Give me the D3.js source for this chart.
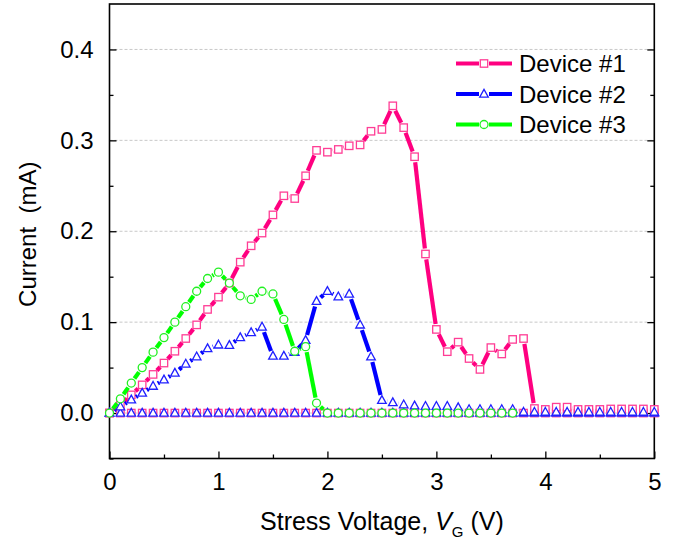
<!DOCTYPE html>
<html>
<head>
<meta charset="utf-8">
<script src="https://cdn.jsdelivr.net/npm/d3@7"></script>
<style>
  html, body { margin: 0; padding: 0; background: #fff; }
  svg text { font-family: "Liberation Sans", Arial, sans-serif; fill: #000; }
</style>
</head>
<body>
<svg id="chart" width="677" height="544"></svg>
<script>
// ---------------- data ----------------
const voltage = [0.0,0.1,0.2,0.3,0.4,0.5,0.6,0.7,0.8,0.9,1.0,1.1,1.2,1.3,1.4,1.5,1.6,1.7,1.8,1.9,
  2.0,2.1,2.2,2.3,2.4,2.5,2.6,2.7,2.8,2.9,3.0,3.1,3.2,3.3,3.4,3.5,3.6,3.7,3.8,3.9,
  4.0,4.1,4.2,4.3,4.4,4.5,4.6,4.7,4.8,4.9,5.0];

const device1 = [0.000,0.009,0.020,0.031,0.0425,0.055,0.068,0.082,0.097,0.114,
  0.1275,0.143,0.166,0.184,0.198,0.218,0.239,0.236,0.261,0.289,
  0.287,0.290,0.294,0.295,0.310,0.312,0.338,0.314,0.282,0.175,
  0.092,0.0675,0.078,0.060,0.048,0.072,0.065,0.081,0.082,0.005,
  0.004,0.0065,0.0065,0.004,0.004,0.004,0.0045,0.0045,0.0045,0.0045,0.004];

const device2 = [0.000,0.007,0.0146,0.022,0.0296,0.0366,0.044,0.054,0.062,0.071,
  0.075,0.0745,0.083,0.0885,0.0947,0.0627,0.0627,0.0668,0.080,0.123,
  0.134,0.128,0.131,0.097,0.062,0.014,0.0116,0.0092,0.008,0.0075,
  0.0075,0.0075,0.006,0.004,0.004,0.004,0.004,0.004,0.001,0.001,
  0.001,0.001,0.001,0.001,0.001,0.001,0.001,0.001,0.001,0.001,0.001];

// device #3 was recorded up to 3.7 V
const device3 = [0.000,0.0157,0.033,0.050,0.067,0.083,0.100,0.117,0.134,0.148,
  0.155,0.143,0.129,0.125,0.134,0.131,0.103,0.068,0.073,0.011,
  0.000,0.000,0.000,0.000,0.000,0.000,0.000,0.000,0.000,0.000,
  0.000,0.000,0.000,0.000,0.000,0.000,0.000,0.000];

// post-breakdown re-sweep (flat at zero) for devices #1 and #2
const baseline1 = [0,0,0,0,0,0,0,0,0,0,0,0,0,0,0,0,0,0,0,0,
  0,0,0,0,0,0,0,0,0,0,0,0,0,0,0,0,0,0,0,0,0,0,0,0,0,0,0,0,0,0,0];
const baseline2 = [0,0,0,0,0,0,0,0,0,0,0,0,0,0,0,0,0,0,0,0,
  0,0,0,0,0,0,0,0,0,0,0,0,0,0,0,0,0,0,0,0,0,0,0,0,0,0,0,0,0,0,0];

const seriesNames = ["Device #1", "Device #2", "Device #3"];
const xTicks = [0, 1, 2, 3, 4, 5];
const yTicks = [0.0, 0.1, 0.2, 0.3, 0.4];

// ---------------- layout ----------------
const svg = d3.select("#chart");
const L = 109.5, R = 654.3, T = 4, B = 458.5;
const x = d3.scaleLinear().domain([0, 5]).range([L, R]);
const y = d3.scaleLinear().domain([-0.05, 0.45]).range([B, T]);

const styles = {
  d1: {line: "#FF0080", mark: "#FF3D95", shape: "square"},
  d2: {line: "#0000FF", mark: "#2020FF", shape: "triangle"},
  d3: {line: "#00FF00", mark: "#22F022", shape: "circle"}
};

// grid
svg.append("g").selectAll("line").data(yTicks).join("line")
  .attr("x1", L).attr("x2", R)
  .attr("y1", d => y(d)).attr("y2", d => y(d))
  .attr("stroke", "#c8c8c8").attr("stroke-width", 1)
  .attr("stroke-dasharray", "3,2");

// axes
const fmt = d3.format(".1f");
const gx = svg.append("g").attr("transform", `translate(0,${B})`)
  .call(d3.axisBottom(x).tickValues(xTicks).tickSize(-7).tickPadding(14).tickFormat(d3.format("d")));
const gxm = svg.append("g").attr("transform", `translate(0,${B})`)
  .call(d3.axisBottom(x).tickValues([0.5,1.5,2.5,3.5,4.5]).tickSize(-4).tickFormat(""));
const gy = svg.append("g").attr("transform", `translate(${L},0)`)
  .call(d3.axisLeft(y).tickValues(yTicks).tickSize(-7).tickPadding(16).tickFormat(fmt));
const gym = svg.append("g").attr("transform", `translate(${L},0)`)
  .call(d3.axisLeft(y).tickValues([-0.05,0.05,0.15,0.25,0.35]).tickSize(-4).tickFormat(""));
const gr = svg.append("g").attr("transform", `translate(${R},0)`)
  .call(d3.axisRight(y).tickValues(yTicks).tickSize(-7).tickFormat(""));
const grm = svg.append("g").attr("transform", `translate(${R},0)`)
  .call(d3.axisRight(y).tickValues([0.05,0.15,0.25,0.35]).tickSize(-4).tickFormat(""));
[gx, gxm, gy, gym, gr, grm].forEach(g => {
  g.select(".domain").remove();
  g.selectAll(".tick line").attr("stroke", "#000").attr("stroke-width", 1.3);
  g.selectAll("text").style("font-size", "24px").style("font-family", '"Liberation Sans", Arial, sans-serif').attr("fill", "#000");
});
// frame
svg.append("rect").attr("x", L).attr("y", T).attr("width", R - L).attr("height", B - T)
  .attr("fill", "none").attr("stroke", "#000").attr("stroke-width", 1.6);

// ---------------- series ----------------
const plot = svg.append("g");
const GAP = 5.5;

function drawSeries(vals, st, withLine) {
  const pts = vals.map((v, i) => [x(voltage[i]), y(v)]);
  const g = plot.append("g");
  if (withLine) {
    for (let i = 0; i < pts.length - 1; i++) {
      const [x1, y1] = pts[i], [x2, y2] = pts[i + 1];
      const dx = x2 - x1, dy = y2 - y1, len = Math.hypot(dx, dy);
      if (len <= 2 * GAP) continue;
      const ux = dx / len, uy = dy / len;
      g.append("line")
        .attr("x1", x1 + ux * GAP).attr("y1", y1 + uy * GAP)
        .attr("x2", x2 - ux * GAP).attr("y2", y2 - uy * GAP)
        .attr("stroke", st.line).attr("stroke-width", 4.2);
    }
  }
  pts.forEach(p => drawMarker(g, p[0], p[1], st));
}

function drawMarker(g, cx, cy, st) {
  if (st.shape === "square") {
    g.append("rect").attr("x", cx - 3.7).attr("y", cy - 3.7).attr("width", 7.4).attr("height", 7.4)
      .attr("fill", "#fff").attr("stroke", st.mark).attr("stroke-width", 1.3);
  } else if (st.shape === "triangle") {
    const h = 7.8, w = 8.6;
    g.append("path")
      .attr("d", `M${cx},${cy - h * 0.6}L${cx + w / 2},${cy + h * 0.4}L${cx - w / 2},${cy + h * 0.4}Z`)
      .attr("fill", "#fff").attr("stroke", st.mark).attr("stroke-width", 1.3);
  } else {
    g.append("circle").attr("cx", cx).attr("cy", cy).attr("r", 4)
      .attr("fill", "#fff").attr("stroke", st.mark).attr("stroke-width", 1.3);
  }
}

drawSeries(baseline1, styles.d1, true);
drawSeries(baseline2, styles.d2, true);
drawSeries(device1, styles.d1, true);
drawSeries(device2, styles.d2, true);
drawSeries(device3, styles.d3, true);

// ---------------- legend ----------------
const legend = svg.append("g");
const legendStyles = [styles.d1, styles.d2, styles.d3];
const legY = [63.5, 94, 124.5];
seriesNames.forEach((name, i) => {
  const st = legendStyles[i], yy = legY[i];
  legend.append("line").attr("x1", 456).attr("x2", 479).attr("y1", yy).attr("y2", yy)
    .attr("stroke", st.line).attr("stroke-width", 4);
  legend.append("line").attr("x1", 489).attr("x2", 512).attr("y1", yy).attr("y2", yy)
    .attr("stroke", st.line).attr("stroke-width", 4);
  drawMarker(legend, 484, yy, st);
  legend.append("text").attr("x", 519).attr("y", yy + 8.5)
    .style("font-size", "24px").text(name);
});

// ---------------- axis titles ----------------
const xt = svg.append("text").attr("x", (L + R) / 2).attr("y", 530)
  .attr("text-anchor", "middle").style("font-size", "25px");
xt.append("tspan").text("Stress Voltage, ");
xt.append("tspan").style("font-style", "italic").text("V");
xt.append("tspan").attr("dy", 7).style("font-size", "15px").text("G");
xt.append("tspan").attr("dy", -7).text(" (V)");

svg.append("text").attr("transform", `translate(36,${(T + B) / 2 + 3}) rotate(-90)`)
  .attr("text-anchor", "middle").style("font-size", "24px")
  .attr("xml:space", "preserve").text("Current  (mA)");
</script>
</body>
</html>
